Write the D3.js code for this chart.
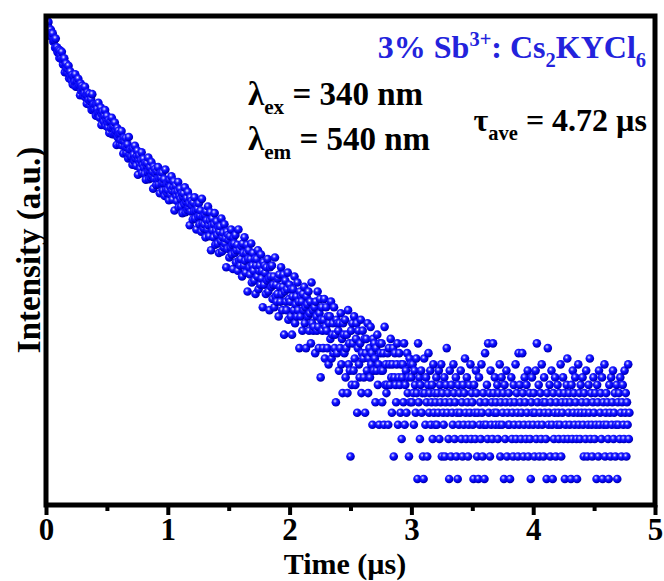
<!DOCTYPE html>
<meta charset="utf-8">
<style>
body { margin: 0; background: #fff; }
text { font-family: "Liberation Serif", "Times New Roman", serif; font-weight: bold; }
</style>
<svg width="664" height="581"></svg>
<script src="https://d3js.org/d3.v7.min.js"></script>
<script>

// channel width of the decay trace (us)
var dt = 0.005;

// photon counts per channel, 0 - 1 us
var countsFast = [
  1070,1004,1052,996,1037,939,949,868,940,904,861,897,806,822,826,746,840,742,751,704,
  708,729,655,719,681,646,708,640,603,638,652,546,596,610,566,543,569,593,505,530,
  551,515,492,527,467,509,518,482,532,454,479,487,452,502,453,462,406,472,431,458,
  443,405,445,417,453,395,410,365,421,404,383,414,359,377,387,337,412,348,361,333,
  340,360,313,362,341,321,369,326,305,334,347,278,317,331,304,290,313,336,275,297,
  312,285,269,296,251,285,292,266,305,247,266,274,247,287,250,258,215,267,237,258,
  245,217,249,228,257,214,227,193,236,225,210,235,195,208,217,181,238,191,202,182,
  186,202,167,206,190,175,213,181,165,188,200,147,178,189,169,159,177,196,150,167,
  180,161,149,171,138,165,171,152,183,139,155,162,142,173,146,153,123,163,140,158,
  149,129,154,139,162,130,140,116,150,142,131,151,120,132,139,112,157,121,131,116
];

// 1 - 3 us
var countsMid = [
  121,134,106,138,126,114,144,120,107,126,135,93,118,128,112,105,119,134,97,112,
  123,108,98,116,90,111,116,101,125,91,104,109,94,118,97,102,77,110,92,105,
  99,83,103,92,110,84,93,73,100,95,86,102,78,87,93,71,108,79,86,74,
  78,88,66,92,82,73,98,77,67,82,91,56,77,84,72,66,78,90,60,72,
  81,68,61,75,54,71,76,63,84,55,66,70,58,78,61,65,45,71,57,68,
  64,51,67,58,73,53,60,44,66,61,54,68,48,56,60,43,73,49,56,46,
  50,59,40,61,54,46,66,49,42,54,60,33,50,56,45,41,50,61,37,46,
  54,43,38,50,32,46,50,40,56,34,43,46,36,53,39,43,27,48,36,46,
  42,32,45,38,50,33,39,26,45,40,35,46,30,36,40,27,51,31,36,29,
  32,39,24,41,35,29,45,32,26,35,41,19,33,38,29,26,34,42,23,30,
  36,29,24,34,19,31,34,26,40,22,28,31,24,37,26,29,16,33,24,31,
  29,20,32,26,35,22,27,16,31,28,24,33,20,25,29,17,37,22,26,20,
  21,27,15,29,24,20,33,21,16,25,30,11,23,27,20,16,23,30,14,21,
  27,20,16,24,13,22,24,18,29,14,19,22,15,27,16,19,8,23,15,22,
  20,12,22,16,25,13,18,9,22,19,15,23,11,16,19,9,26,13,17,12,
  4,20,10,22,17,12,24,14,10,18,22,7,16,20,13,11,17,23,9,15,
  20,14,11,18,7,15,18,12,22,9,14,16,11,21,13,15,6,18,12,17,
  14,8,16,12,19,10,13,6,17,15,12,17,8,12,15,6,21,10,13,9,
  10,15,6,16,13,10,18,11,7,13,16,4,11,15,10,8,13,17,6,11,
  15,10,7,13,5,11,13,8,17,6,10,12,7,15,9,11,4,14,8,13
];

// 3 - 4.79 us (background level)
var countsTail = [
  11,8,13,9,6,12,10,7,14,9,3,17,8,11,5,10,12,7,9,4,
  3,14,9,6,11,8,4,10,15,7,9,12,6,8,10,5,13,7,9,6,
  8,11,6,9,7,12,5,10,8,13,4,9,7,6,11,4,8,10,16,7,
  9,5,3,12,8,4,10,7,6,13,9,5,8,11,4,7,3,10,6,9,
  7,12,5,8,4,10,6,9,14,7,5,11,8,4,6,10,7,13,5,9,
  8,6,3,10,7,5,12,9,4,7,3,11,6,8,5,13,7,4,9,6,
  3,15,8,6,10,5,17,7,9,4,12,6,8,5,17,9,7,11,6,8,
  7,10,5,9,6,13,4,8,11,6,7,9,3,10,5,8,12,4,7,6,
  9,6,3,8,11,5,7,4,10,6,8,13,5,9,7,4,15,6,10,8,
  5,7,15,9,4,6,11,8,5,10,7,12,4,6,9,5,3,8,11,7,
  6,9,4,7,12,5,17,8,6,10,4,7,9,5,13,6,8,4,11,7,
  8,5,3,9,16,6,7,10,4,8,12,6,3,9,5,7,11,4,8,6,
  10,7,5,9,6,13,4,8,7,11,5,9,3,6,8,10,14,5,7,9,
  6,8,3,10,5,12,7,9,6,11,8,5,3,7,13,6,9,5,10,7,
  8,11,6,4,9,7,5,12,8,4,6,10,7,14,5,9,6,4,8,11,
  7,5,9,6,3,10,8,4,12,6,7,9,5,11,3,8,6,13,4,7,
  9,6,8,5,3,10,7,4,11,6,8,12,5,7,9,4,6,10,3,8,
  6,9,5,11,7,4,8,10,6,5,12,7,9,4,8,6,13,5,7
];

var xTicks = [0, 1, 2, 3, 4, 5];
var xMinor = [0.5, 1.5, 2.5, 3.5, 4.5];

var svg = d3.select("svg");
var plotL = 46, plotR = 655, plotT = 16, plotB = 505;

var x = d3.scaleLinear().domain([0, 5]).range([plotL, plotR]);
var y = d3.scaleLog().domain([2.15, 1120]).range([plotB, plotT]);

var data = countsFast.concat(countsMid, countsTail).map(function(c, i) {
  return {t: i * dt, c: c};
});

var defs = svg.append("defs");
var grad = defs.append("radialGradient").attr("id", "ball")
    .attr("cx", "40%").attr("cy", "36%").attr("r", "60%");
grad.append("stop").attr("offset", "0%").attr("stop-color", "#ffffff");
grad.append("stop").attr("offset", "16%").attr("stop-color", "#8c8cff");
grad.append("stop").attr("offset", "40%").attr("stop-color", "#1a1aff");
grad.append("stop").attr("offset", "78%").attr("stop-color", "#0000ee");
grad.append("stop").attr("offset", "100%").attr("stop-color", "#0000a8");

defs.append("clipPath").attr("id", "plot").append("rect")
    .attr("x", plotL).attr("y", plotT)
    .attr("width", plotR - plotL).attr("height", plotB - plotT);

svg.append("g")
    .attr("clip-path", "url(#plot)")
  .selectAll("circle")
  .data(data)
  .enter().append("circle")
    .attr("cx", function(d) { return x(d.t); })
    .attr("cy", function(d) { return y(d.c); })
    .attr("r", 4.3)
    .attr("fill", "url(#ball)");

// x axis: major and minor ticks
var gx = svg.append("g")
    .attr("transform", "translate(0," + plotB + ")")
    .call(d3.axisBottom(x).tickValues(xTicks).tickSize(10).tickFormat(d3.format("d")));
gx.select(".domain").remove();
gx.selectAll(".tick line").attr("stroke", "#000").attr("stroke-width", 4);
gx.selectAll(".tick text")
    .attr("y", 35).attr("dy", 0)
    .attr("fill", "#000")
    .style("font-size", "31px")
    .style("font-family", "'Liberation Serif', serif")
    .style("font-weight", "bold");

var gm = svg.append("g")
    .attr("transform", "translate(0," + plotB + ")")
    .call(d3.axisBottom(x).tickValues(xMinor).tickSize(6).tickFormat(""));
gm.select(".domain").remove();
gm.selectAll(".tick line").attr("stroke", "#000").attr("stroke-width", 4);

// frame
svg.append("rect")
    .attr("x", plotL).attr("y", plotT)
    .attr("width", plotR - plotL).attr("height", plotB - plotT)
    .attr("fill", "none").attr("stroke", "#000").attr("stroke-width", 5);

svg.append("text")
    .attr("x", 345).attr("y", 574)
    .attr("text-anchor", "middle")
    .attr("font-size", 30)
    .text("Time (\u00b5s)");

svg.append("text")
    .attr("transform", "translate(40,250) rotate(-90)")
    .attr("text-anchor", "middle")
    .attr("font-size", 33)
    .text("Intensity (a.u.)");

function rich(xPos, yPos, parts, size, color, anchor) {
  var t = svg.append("text")
      .attr("x", xPos).attr("y", yPos)
      .attr("font-size", size)
      .attr("fill", color)
      .attr("text-anchor", anchor || "start");
  var shift = 0;
  parts.forEach(function(p) {
    var target = p[1] === "sub" ? size * 0.28 : p[1] === "sup" ? -size * 0.38 : 0;
    t.append("tspan")
        .attr("dy", target - shift)
        .attr("font-size", p[1] ? size * 0.64 : size)
        .text(p[0]);
    shift = target;
  });
}

rich(646, 58, [["3% Sb"], ["3+", "sup"], [": Cs"], ["2", "sub"], ["KYCl"], ["6", "sub"]], 32, "#2323dc", "end");
rich(248, 105, [["\u03bb"], ["ex", "sub"], [" = 340 nm"]], 33, "#000");
rich(248, 150, [["\u03bb"], ["em", "sub"], [" = 540 nm"]], 33, "#000");
rich(647, 131, [["\u03c4"], ["ave", "sub"], [" = 4.72 \u00b5s"]], 32, "#000", "end");

</script>
